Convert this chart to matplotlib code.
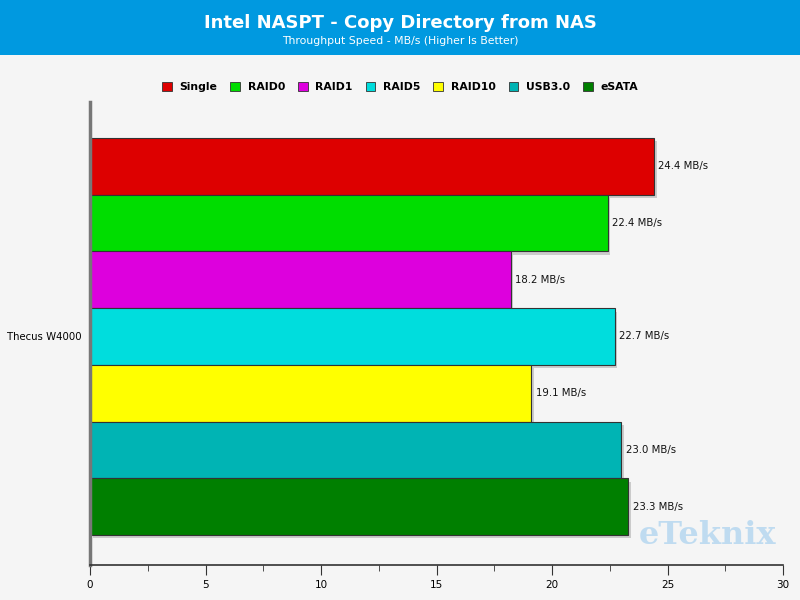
import matplotlib
matplotlib.use("Agg")
import matplotlib.pyplot as plt
from matplotlib.patches import Rectangle

# chart data
device = "Thecus W4000"
configs = ["Single", "RAID0", "RAID1", "RAID5", "RAID10", "USB3.0", "eSATA"]
speeds = [24.4, 22.4, 18.2, 22.7, 19.1, 23.0, 23.3]
colors = ["#dd0000", "#00dd00", "#dd00dd", "#00dddd", "#ffff00", "#00b4b4", "#007f00"]
xticks = [0, 5, 10, 15, 20, 25, 30]

BG = "#f5f5f5"
fig = plt.figure(figsize=(8, 6), dpi=100, facecolor=BG)

# blue header band
fig.patches.append(Rectangle((0, 0.908), 1, 0.092, transform=fig.transFigure,
                             facecolor="#0099e0", edgecolor="none", zorder=0))
fig.text(0.5, 0.961, "Intel NASPT - Copy Directory from NAS", color="white",
         ha="center", va="center", fontsize=13, fontweight="bold")
fig.text(0.5, 0.932, "Throughput Speed - MB/s (Higher Is Better)", color="white",
         ha="center", va="center", fontsize=7.8)

ax = fig.add_axes([0.1125, 0.0583, 0.8665, 0.7717])
ax.set_facecolor(BG)

pos = list(range(len(configs)))
# drop shadows
ax.barh([p + 0.06 for p in pos], speeds, height=1.0, left=0.12,
        color="#b0b0b0", alpha=0.6, zorder=1)
ax.barh(pos, speeds, height=1.0, color=colors, edgecolor="#333333",
        linewidth=0.8, zorder=2)
for p, v in zip(pos, speeds):
    ax.text(v + 0.2, p, f"{v:.1f} MB/s", va="center", ha="left", fontsize=7.3,
            color="#111111", zorder=3)

ax.set_xlim(0, 30)
ax.set_ylim(7.03, -1.135)
ax.set_xticks(xticks)
ax.set_xticks([x + 2.5 for x in xticks[:-1]], minor=True)
ax.tick_params(axis="x", which="major", length=7, labelsize=7.5, color="#333333")
ax.tick_params(axis="x", which="minor", length=4, color="#333333")
ax.set_yticks([3])
ax.set_yticklabels([device], fontsize=7.3)
ax.tick_params(axis="y", length=0, pad=6)
for s in ("top", "right"):
    ax.spines[s].set_visible(False)
ax.spines["left"].set_color("#777777")
ax.spines["left"].set_linewidth(2.5)
ax.spines["bottom"].set_color("#333333")
ax.spines["bottom"].set_linewidth(1.2)

handles = [Rectangle((0, 0), 1, 1, facecolor=c, edgecolor="#333333", linewidth=0.6)
           for c in colors]
fig.legend(handles, configs, loc="center", bbox_to_anchor=(0.5, 0.855),
           ncol=len(configs), frameon=False, handlelength=0.9,
           handleheight=0.9, handletextpad=0.7, columnspacing=1.2,
           prop={"size": 7.8, "weight": "bold"})

fig.text(0.884, 0.108, "eTeknix", color="#9ccbee", alpha=0.6, ha="center",
         va="center", fontsize=23, fontweight="bold", family="DejaVu Serif")

fig.savefig("out.png", dpi=100, facecolor=BG)
